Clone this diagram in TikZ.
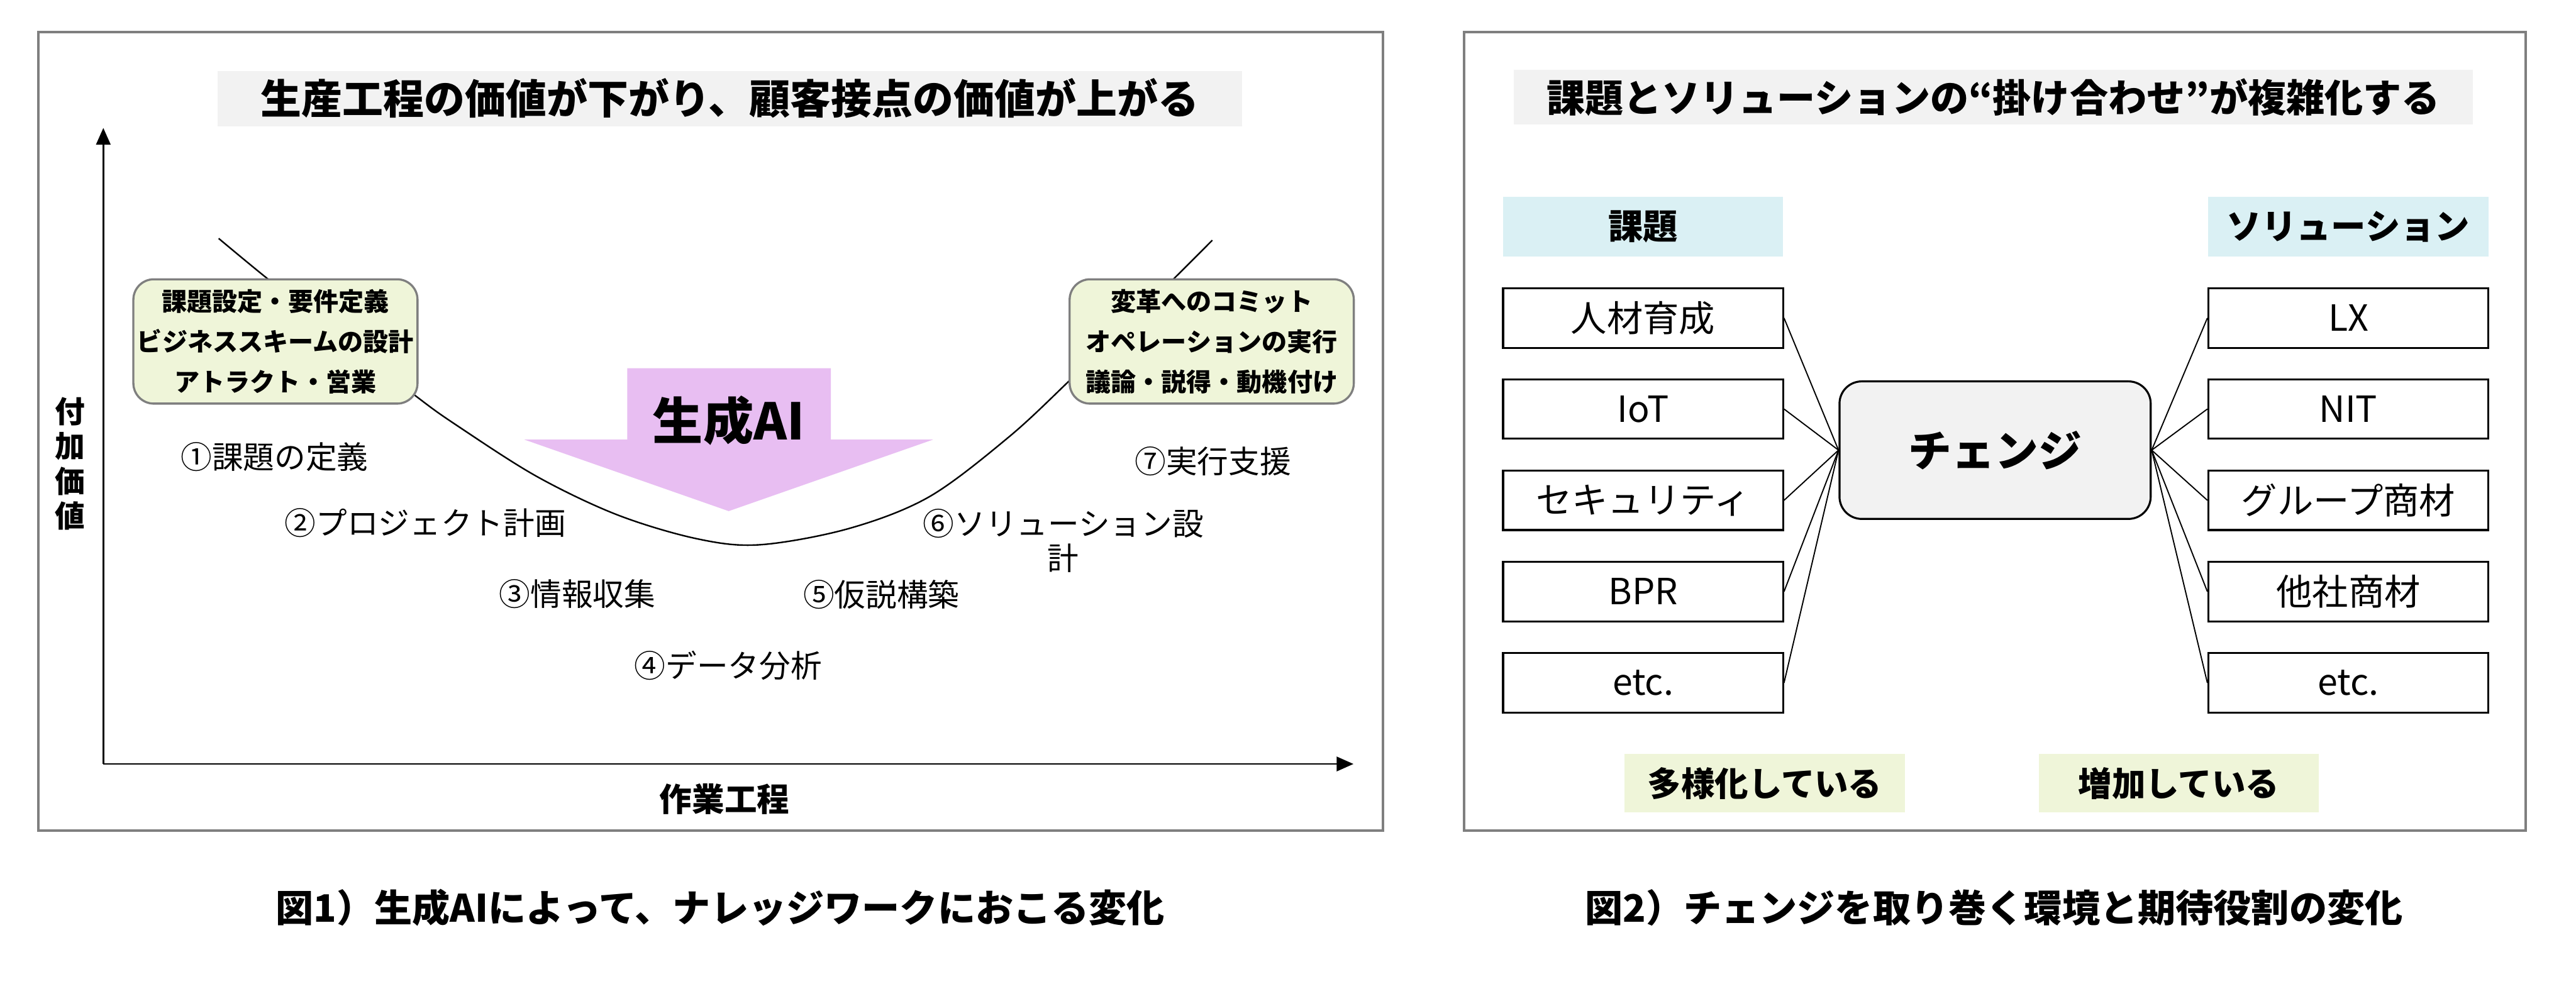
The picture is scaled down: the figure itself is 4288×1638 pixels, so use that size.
\documentclass[tikz,border=0pt]{standalone}
\usepackage{fontspec}
\setmainfont{Noto Sans CJK JP}
\usetikzlibrary{arrows.meta}
\definecolor{framegray}{HTML}{7F7F7F}
\definecolor{titlegray}{HTML}{F2F2F2}
\definecolor{paleolive}{HTML}{EFF5D9}
\definecolor{palecyan}{HTML}{DAF0F4}
\definecolor{aipurple}{HTML}{E8BEF2}
\newcommand\fsz[2]{\fontsize{#1}{#2}\selectfont}
\begin{document}
\begin{tikzpicture}[x=1pt,y=-1pt,
  panel/.style={draw=framegray,line width=4pt,inner sep=0pt},
  titlebar/.style={fill=titlegray,inner sep=0pt,font=\bfseries\fsz{66}{70}},
  yelbox/.style={draw=framegray,line width=3.5pt,fill=paleolive,rounded corners=34pt,
    minimum width=473pt,minimum height=207pt,inner sep=0pt,align=center,font=\bfseries\fsz{42}{67}},
  lbl/.style={inner sep=0pt,font=\fsz{52}{58}},
  hdr/.style={fill=palecyan,minimum width=466pt,minimum height=99pt,inner sep=0pt,font=\bfseries\fsz{58}{60}},
  item/.style={draw=black,line width=3.3pt,fill=white,minimum width=466pt,minimum height=99pt,inner sep=0pt,font=\fsz{60}{62}},
  tag/.style={fill=paleolive,minimum width=466pt,minimum height=98pt,inner sep=0pt,font=\bfseries\fsz{56}{58}},
  hub/.style={draw=black,line width=3.3pt,fill=titlegray,rounded corners=37pt,minimum width=518pt,minimum height=229pt,inner sep=0pt,font=\bfseries\fsz{72}{74}},
  link/.style={draw=black,line width=2pt},
  axisline/.style={draw=black,line width=3pt,-{Triangle[length=28pt,width=24pt]}},
  caption/.style={inner sep=0pt,font=\bfseries\fsz{63}{66}}
]
\useasboundingbox (0,0) rectangle (4288,1638);
\fill[white] (0,0) rectangle (4288,1638);

% ===== Left panel =====
\node[panel,minimum width=2238pt,minimum height=1330pt] (frameL) at (1183,718) {};
\node[titlebar,minimum width=1706pt,minimum height=92pt,font=\bfseries\fsz{68}{70}] (titleL) at (1215,164) {生産工程の価値が下がり、顧客接点の価値が上がる};

% value curve
\draw[line width=2.5pt] plot[smooth,tension=0.55] coordinates {
  (364,397) (444,463) (568,561) (693,660) (760,708) (893,793) (1027,857)
  (1160,897) (1265,907) (1413,880) (1547,827) (1680,727) (1781,633)
  (1868,548) (1955,463) (2018,400)};

\node[yelbox] (boxL) at (458.5,568.5) {課題設定・要件定義\\ビジネススキームの設計\\アトラクト・営業};
\node[yelbox] (boxR) at (2017,568.5) {変革へのコミット\\オペレーションの実行\\議論・説得・動機付け};

% generative AI arrow
\fill[aipurple] (1044,613) -- (1383,613) -- (1383,732) -- (1553,732) -- (1213,851) -- (873,732) -- (1044,732) -- cycle;
\node[inner sep=0pt,font=\bfseries\fsz{84}{86}] (ai) at (1213,700) {生成AI};

% step labels
\node[lbl] (st1) at (457,761) {①課題の定義};
\node[lbl] (st2) at (708,871) {②プロジェクト計画};
\node[lbl] (st3) at (961,989) {③情報収集};
\node[lbl] (st4) at (1212,1108) {④データ分析};
\node[lbl] (st5) at (1467,990) {⑤仮説構築};
\node[lbl,align=center] (st6) at (1770,900) {⑥ソリューション設\\計};
\node[lbl] (st7) at (2019,768) {⑦実行支援};

% axes
\coordinate (O) at (172,1272);
\coordinate (Ytip) at (172,213);
\coordinate (Xtip) at (2253,1272);
\draw[axisline] (O) -- (Ytip);
\draw[axisline] (O) -- (Xtip);
\node[inner sep=0pt,align=center,font=\bfseries\fsz{50}{58}] (ylab) at (117,772) {付\\加\\価\\値};
\node[inner sep=0pt,font=\bfseries\fsz{54}{56}] (xlab) at (1206,1330) {作業工程};

% ===== Right panel =====
\node[panel,minimum width=1767pt,minimum height=1330pt] (frameR) at (3320.5,718) {};
\node[titlebar,minimum width=1596pt,minimum height=91pt,font=\bfseries\fsz{64}{66}] (titleR) at (3318,162) {課題とソリューションの“掛け合わせ”が複雑化する};

\node[hdr] (hK) at (2735,377.5) {課題};
\node[hdr] (hS) at (3909,377.5) {ソリューション};

\node[item] (k1) at (2735,529.5) {人材育成};
\node[item] (k2) at (2735,681) {IoT};
\node[item] (k3) at (2735,833) {セキュリティ};
\node[item] (k4) at (2735,985) {BPR};
\node[item] (k5) at (2735,1137) {etc.};

\node[item] (r1) at (3909,529.5) {LX};
\node[item] (r2) at (3909,681) {NIT};
\node[item] (r3) at (3909,833) {グループ商材};
\node[item] (r4) at (3909,985) {他社商材};
\node[item] (r5) at (3909,1137) {etc.};

\node[hub] (chg) at (3321,749.5) {チェンジ};

\foreach \i in {1,...,5}{
  \draw[link] (k\i.east) -- (chg.west);
  \draw[link] (r\i.west) -- (chg.east);
}

\node[tag] (tg1) at (2937.5,1304) {多様化している};
\node[tag] (tg2) at (3627,1304) {増加している};

% ===== captions =====
\node[caption] (cap1) at (1199,1511) {図1）生成AIによって、ナレッジワークにおこる変化};
\node[caption] (cap2) at (3319,1511) {図2）チェンジを取り巻く環境と期待役割の変化};
\end{tikzpicture}
\end{document}
